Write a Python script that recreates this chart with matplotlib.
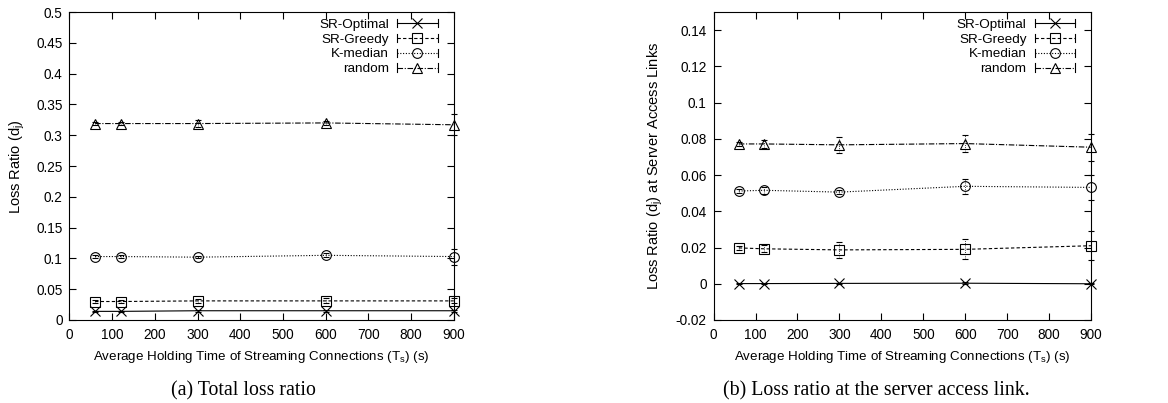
import numpy as np
import matplotlib
matplotlib.use("Agg")
import matplotlib.pyplot as plt
from matplotlib.legend_handler import HandlerLine2D
from matplotlib.lines import Line2D

plt.rcParams['font.family'] = ['Liberation Sans', 'DejaVu Sans']
plt.rcParams['mathtext.default'] = 'regular'

# holding times (s)
hold_time = [60, 120, 300, 600, 900]
names = ["SR-Optimal", "SR-Greedy", "K-median", "random"]

# total loss ratio
total_opt = [0.014, 0.014, 0.015, 0.015, 0.015]
total_greedy = [0.030, 0.030, 0.031, 0.031, 0.031]
total_kmed = [0.103, 0.103, 0.102, 0.105, 0.103]
total_rand = [0.319, 0.319, 0.319, 0.320, 0.317]
total_opt_err = [0.001, 0.001, 0.002, 0.002, 0.002]
total_greedy_err = [0.002, 0.002, 0.003, 0.004, 0.004]
total_kmed_err = [0.002, 0.002, 0.002, 0.003, 0.013]
total_rand_err = [0.002, 0.002, 0.005, 0.003, 0.017]

# loss ratio at server access links
link_opt = [0.0001, 0.0001, 0.0002, 0.0003, 0.0000]
link_greedy = [0.0198, 0.0193, 0.0187, 0.0190, 0.0210]
link_kmed = [0.0512, 0.0516, 0.0506, 0.0538, 0.0532]
link_rand = [0.0772, 0.0772, 0.0767, 0.0774, 0.0754]
link_opt_err = [0.0002, 0.0002, 0.0003, 0.0004, 0.0003]
link_greedy_err = [0.001, 0.002, 0.0045, 0.0055, 0.008]
link_kmed_err = [0.001, 0.002, 0.001, 0.004, 0.007]
link_rand_err = [0.001, 0.002, 0.0045, 0.0045, 0.0075]

styles = [
    dict(ls='-', marker='x', ms=7),
    dict(ls=(0, (3, 2)), marker='s', ms=7),
    dict(ls=(0, (1, 1.5)), marker='o', ms=7),
    dict(ls=(0, (5, 1.5, 1, 1.5)), marker='^', ms=7),
]


class CapHandler(HandlerLine2D):
    # legend sample: line with marker in the middle and small caps at both ends
    def create_artists(self, legend, orig_handle, xdescent, ydescent,
                       width, height, fontsize, trans):
        arts = super().create_artists(legend, orig_handle, xdescent, ydescent,
                                      width, height, fontsize, trans)
        y = height / 2 - ydescent
        for xc in (-xdescent, width - xdescent):
            cap = Line2D([xc, xc], [y - 3, y + 3], color='black', lw=0.8,
                         transform=trans)
            arts.append(cap)
        return arts


def draw(ax, series, errs, ylim, yticks, ylabel, ylab_x):
    handles = []
    for y, e, st, name in zip(series, errs, styles, names):
        eb = ax.errorbar(hold_time, y, yerr=e, color='black', lw=0.8,
                         ls=st['ls'], marker=st['marker'], ms=st['ms'],
                         mfc='none', mec='black', mew=0.8,
                         ecolor='black', elinewidth=0.6, capsize=2,
                         capthick=0.6)
        eb[2][0].set_linestyle(':')
        for art in eb.get_children():
            art.set_clip_on(False)
        h = Line2D([], [], color='black', lw=0.8, ls=st['ls'],
                   marker=st['marker'], ms=st['ms'], mfc='none',
                   mec='black', mew=0.8)
        handles.append(h)
    ax.set_xlim(0, 900)
    ax.set_xticks(np.arange(0, 901, 100))
    ax.set_ylim(*ylim)
    ax.set_yticks(yticks)
    ax.set_yticklabels([('%g' % t) for t in yticks])
    ax.tick_params(direction='in', top=True, right=True, labelsize=9.8,
                   length=5, width=0.8)
    ax.tick_params(axis='x', pad=6)
    ax.tick_params(axis='y', pad=5)
    for s in ax.spines.values():
        s.set_linewidth(0.8)
    ax.set_xlabel('Average Holding Time of Streaming Connections (T$_s$) (s)',
                  fontsize=9.6)
    ax.xaxis.set_label_coords(0.5, -0.094)
    ax.set_ylabel(ylabel, fontsize=10.5)
    ax.yaxis.set_label_coords(ylab_x, 0.5)
    ax.legend(handles, names, loc='upper right', bbox_to_anchor=(0.958, 0.98),
              frameon=False, markerfirst=False, fontsize=9.7,
              handlelength=3.0, handletextpad=0.6, labelspacing=0.18,
              borderpad=0.0, borderaxespad=0.0,
              handler_map={Line2D: CapHandler(numpoints=1)})


fig = plt.figure(figsize=(11.68, 4.03), dpi=100)
ax1 = fig.add_axes([0.0595, 0.206, 0.329, 0.764])
ax2 = fig.add_axes([0.611, 0.206, 0.323, 0.764])

draw(ax1, [total_opt, total_greedy, total_kmed, total_rand],
     [total_opt_err, total_greedy_err, total_kmed_err, total_rand_err],
     (0, 0.5), np.round(np.arange(0, 0.501, 0.05), 2), 'Loss Ratio (d$_j$)',
     -0.110)
draw(ax2, [link_opt, link_greedy, link_kmed, link_rand],
     [link_opt_err, link_greedy_err, link_kmed_err, link_rand_err],
     (-0.02, 0.15), np.round(np.arange(-0.02, 0.141, 0.02), 2),
     'Loss Ratio (d$_j$) at Server Access Links', -0.130)

fig.text(0.208, 0.03, '(a) Total loss ratio', ha='center', va='center',
         family='Liberation Serif', fontsize=14.3)
fig.text(0.750, 0.03, '(b) Loss ratio at the server access link.',
         ha='center', va='center', family='Liberation Serif', fontsize=14.3)

fig.savefig('out.png', dpi=100)
